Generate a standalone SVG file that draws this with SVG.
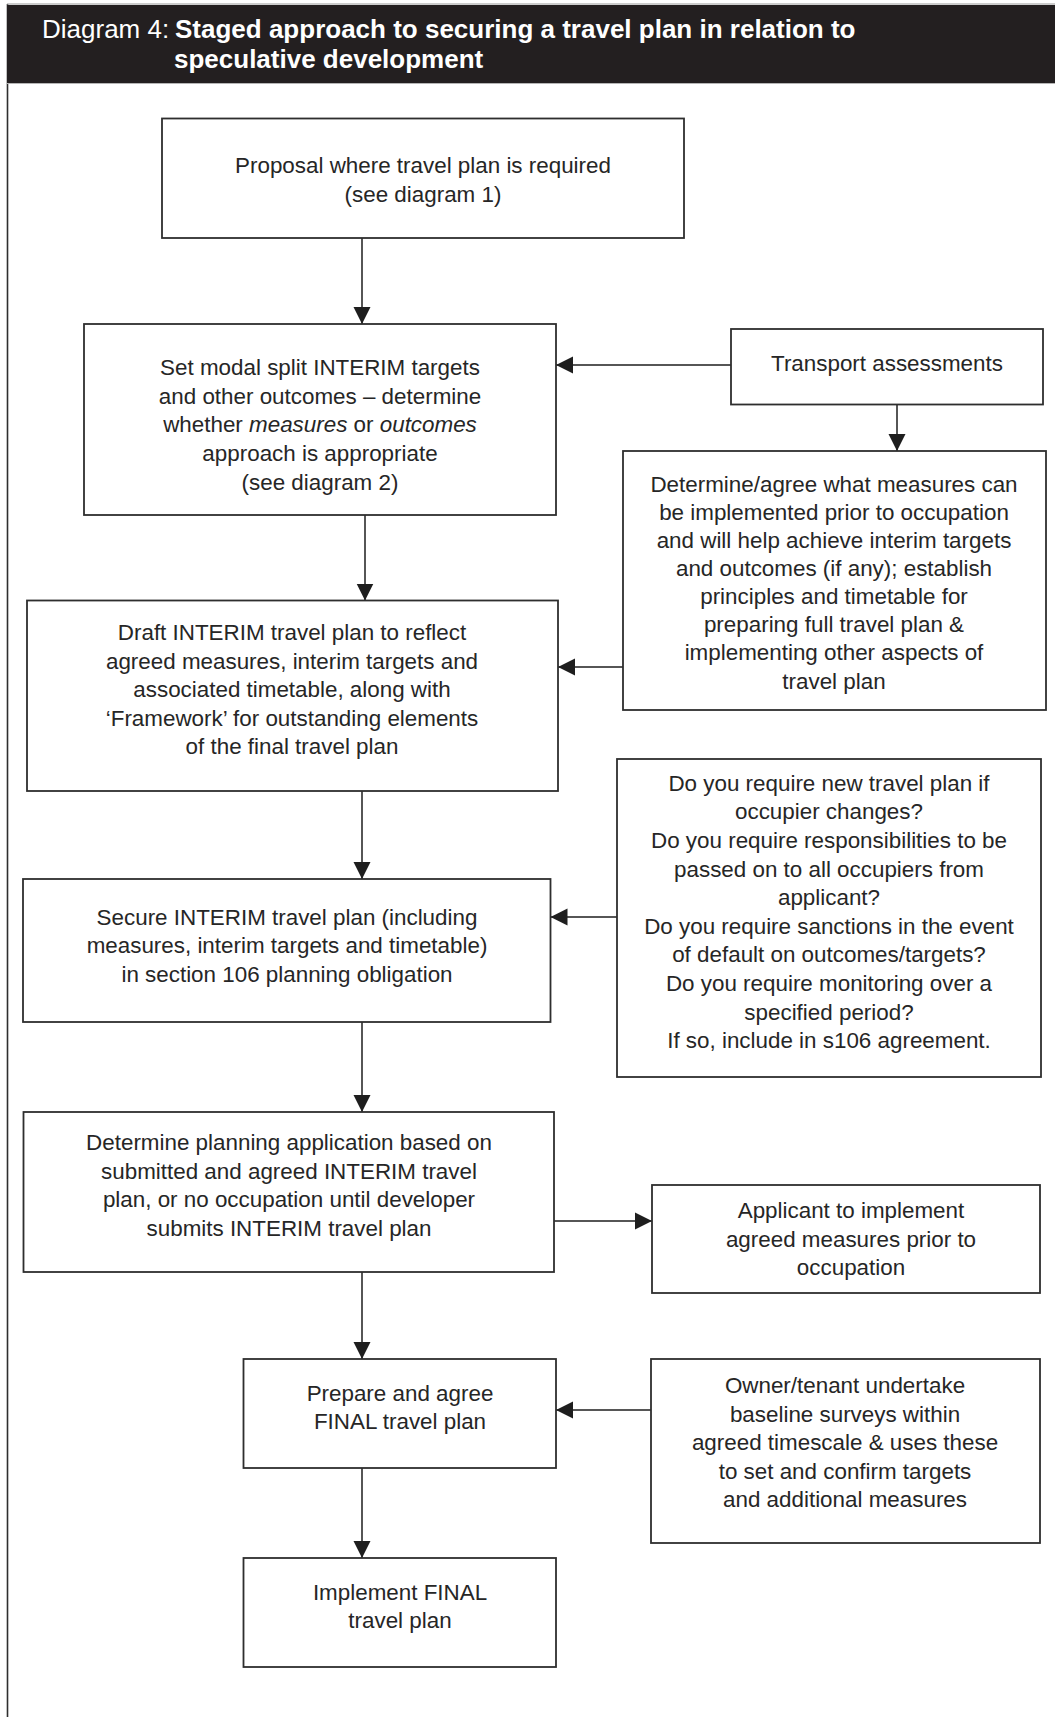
<svg xmlns="http://www.w3.org/2000/svg" width="1055" height="1717" viewBox="0 0 1055 1717">
  <defs>
    <marker id="arrow" markerUnits="userSpaceOnUse" markerWidth="18" markerHeight="18" viewBox="0 0 18 18" refX="17" refY="9" orient="auto">
      <path d="M0,0.5 L17,9 L0,17.5 Z" fill="#1e1e1e"/>
    </marker>
    <style>
      .box { fill: #ffffff; stroke: #2e2e2e; stroke-width: 1.8; }
      .lbl { font-family: "Liberation Sans", Arial, sans-serif; font-size: 22.4px; fill: #262626; text-anchor: middle; }
      .conn { fill: none; stroke: #1e1e1e; stroke-width: 1.5; marker-end: url(#arrow); }
      .title { font-family: "Liberation Sans", Arial, sans-serif; font-size: 26px; fill: #ffffff; }
    </style>
  </defs>

  <!-- page background and frame -->
  <rect x="0" y="0" width="1055" height="1717" fill="#ffffff"/>
  <line x1="7.5" y1="4" x2="7.5" y2="1717" stroke="#2e2e2e" stroke-width="1.6"/>

  <!-- heading band -->
  <g id="heading">
    <line x1="7" y1="4" x2="1055" y2="4" stroke="#9a9a9a" stroke-width="1.2"/>
    <rect x="7" y="5" width="1048" height="78" fill="#231f20"/>
    <line x1="7" y1="83.5" x2="1055" y2="83.5" stroke="#b5b5b5" stroke-width="1"/>
    <text class="title" x="42" y="37.5">Diagram 4: <tspan x="175" font-weight="bold">Staged approach to securing a travel plan in relation to</tspan></text>
    <text class="title" x="174" y="67.5" font-weight="bold">speculative development</text>
  </g>

  <!-- connectors -->
  <g id="connectors">
    <line class="conn" x1="362" y1="238" x2="362" y2="324"/>
    <line class="conn" x1="731" y1="365" x2="556" y2="365"/>
    <line class="conn" x1="897" y1="404" x2="897" y2="451"/>
    <line class="conn" x1="365" y1="515" x2="365" y2="600.5"/>
    <line class="conn" x1="623" y1="667" x2="558" y2="667"/>
    <line class="conn" x1="362" y1="791" x2="362" y2="879"/>
    <line class="conn" x1="617" y1="917" x2="550.5" y2="917"/>
    <line class="conn" x1="362" y1="1022" x2="362" y2="1112"/>
    <line class="conn" x1="554" y1="1221" x2="652" y2="1221"/>
    <line class="conn" x1="362" y1="1272" x2="362" y2="1359"/>
    <line class="conn" x1="651" y1="1410" x2="556" y2="1410"/>
    <line class="conn" x1="362" y1="1468" x2="362" y2="1558"/>
  </g>

  <!-- nodes -->
  <g id="proposal">
    <rect class="box" x="162" y="118.5" width="522" height="119.5"/>
    <text class="lbl" x="423" y="173">Proposal where travel plan is required</text>
    <text class="lbl" x="423" y="202">(see diagram 1)</text>
  </g>

  <g id="interim-targets">
    <rect class="box" x="84" y="324" width="472" height="191"/>
    <text class="lbl" x="320" y="375">Set modal split INTERIM targets</text>
    <text class="lbl" x="320" y="403.5">and other outcomes – determine</text>
    <text class="lbl" x="320" y="432">whether <tspan font-style="italic">measures</tspan> or <tspan font-style="italic">outcomes</tspan></text>
    <text class="lbl" x="320" y="461">approach is appropriate</text>
    <text class="lbl" x="320" y="490">(see diagram 2)</text>
  </g>

  <g id="transport-assessments">
    <rect class="box" x="731" y="329" width="312" height="75.5"/>
    <text class="lbl" x="887" y="371">Transport assessments</text>
  </g>

  <g id="agree-measures">
    <rect class="box" x="623" y="451" width="423" height="259"/>
    <text class="lbl" x="834" y="492">Determine/agree what measures can</text>
    <text class="lbl" x="834" y="520">be implemented prior to occupation</text>
    <text class="lbl" x="834" y="548">and will help achieve interim targets</text>
    <text class="lbl" x="834" y="576">and outcomes (if any); establish</text>
    <text class="lbl" x="834" y="604">principles and timetable for</text>
    <text class="lbl" x="834" y="632">preparing full travel plan &amp;</text>
    <text class="lbl" x="834" y="660">implementing other aspects of</text>
    <text class="lbl" x="834" y="689">travel plan</text>
  </g>

  <g id="draft-interim">
    <rect class="box" x="27" y="600.5" width="531" height="190.5"/>
    <text class="lbl" x="292" y="640">Draft INTERIM travel plan to reflect</text>
    <text class="lbl" x="292" y="668.5">agreed measures, interim targets and</text>
    <text class="lbl" x="292" y="697">associated timetable, along with</text>
    <text class="lbl" x="292" y="725.5">‘Framework’ for outstanding elements</text>
    <text class="lbl" x="292" y="754">of the final travel plan</text>
  </g>

  <g id="secure-interim">
    <rect class="box" x="23" y="879" width="527.5" height="143"/>
    <text class="lbl" x="287" y="925">Secure INTERIM travel plan (including</text>
    <text class="lbl" x="287" y="953">measures, interim targets and timetable)</text>
    <text class="lbl" x="287" y="981.5">in section 106 planning obligation</text>
  </g>

  <g id="s106-questions">
    <rect class="box" x="617" y="759" width="424" height="318"/>
    <text class="lbl" x="829" y="790.7">Do you require new travel plan if</text>
    <text class="lbl" x="829" y="819.3">occupier changes?</text>
    <text class="lbl" x="829" y="847.9">Do you require responsibilities to be</text>
    <text class="lbl" x="829" y="876.5">passed on to all occupiers from</text>
    <text class="lbl" x="829" y="905.1">applicant?</text>
    <text class="lbl" x="829" y="933.7">Do you require sanctions in the event</text>
    <text class="lbl" x="829" y="962.3">of default on outcomes/targets?</text>
    <text class="lbl" x="829" y="990.9">Do you require monitoring over a</text>
    <text class="lbl" x="829" y="1019.5">specified period?</text>
    <text class="lbl" x="829" y="1048.1">If so, include in s106 agreement.</text>
  </g>

  <g id="determine-application">
    <rect class="box" x="23.5" y="1112" width="530.5" height="160"/>
    <text class="lbl" x="289" y="1150">Determine planning application based on</text>
    <text class="lbl" x="289" y="1178.5">submitted and agreed INTERIM travel</text>
    <text class="lbl" x="289" y="1207">plan, or no occupation until developer</text>
    <text class="lbl" x="289" y="1235.5">submits INTERIM travel plan</text>
  </g>

  <g id="applicant-implement">
    <rect class="box" x="652" y="1185" width="388" height="108"/>
    <text class="lbl" x="851" y="1218">Applicant to implement</text>
    <text class="lbl" x="851" y="1246.5">agreed measures prior to</text>
    <text class="lbl" x="851" y="1275">occupation</text>
  </g>

  <g id="prepare-final">
    <rect class="box" x="243.5" y="1359" width="312.5" height="109"/>
    <text class="lbl" x="400" y="1401">Prepare and agree</text>
    <text class="lbl" x="400" y="1429">FINAL travel plan</text>
  </g>

  <g id="baseline-surveys">
    <rect class="box" x="651" y="1359" width="389" height="184"/>
    <text class="lbl" x="845" y="1393">Owner/tenant undertake</text>
    <text class="lbl" x="845" y="1421.5">baseline surveys within</text>
    <text class="lbl" x="845" y="1450">agreed timescale &amp; uses these</text>
    <text class="lbl" x="845" y="1478.5">to set and confirm targets</text>
    <text class="lbl" x="845" y="1507">and additional measures</text>
  </g>

  <g id="implement-final">
    <rect class="box" x="243.5" y="1558" width="312.5" height="109"/>
    <text class="lbl" x="400" y="1600">Implement FINAL</text>
    <text class="lbl" x="400" y="1628">travel plan</text>
  </g>
</svg>
